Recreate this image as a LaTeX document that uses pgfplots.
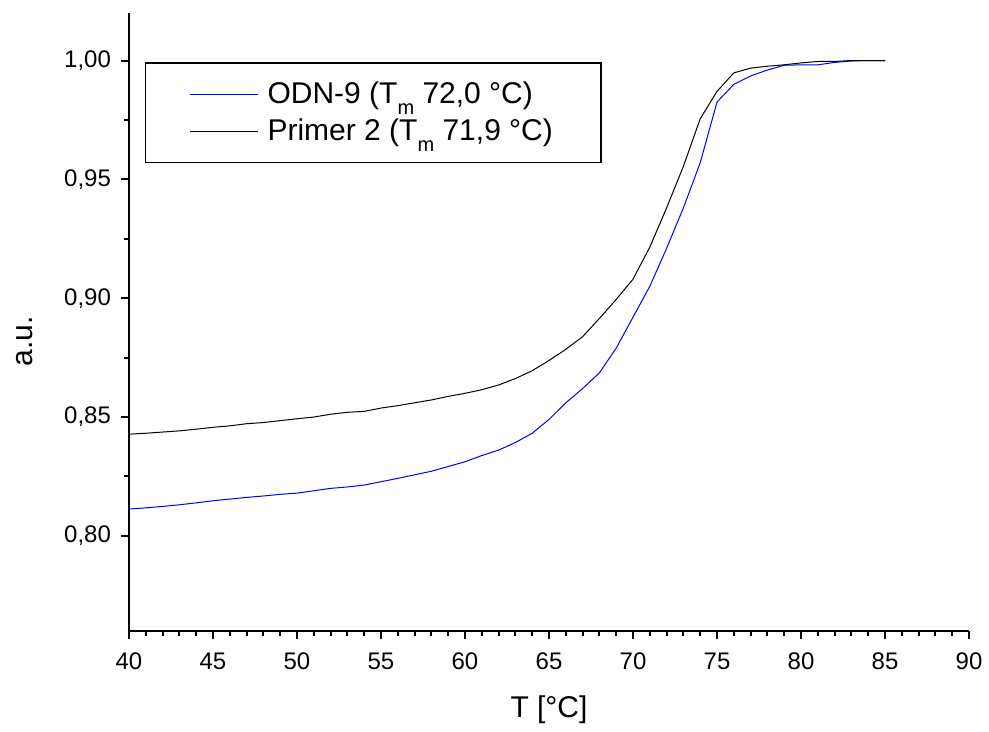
\documentclass[border=0pt]{standalone}
\usepackage{fontspec}
\setmainfont{Liberation Sans}
\usepackage{pgfplots}
\pgfplotsset{compat=1.18}
\usepackage{pgfplotstable}

% ODN-9, normalised absorbance
\pgfplotstableread{
T    A
40   0.8113
41   0.8118
42   0.8124
43   0.8131
44   0.8139
45   0.8148
46   0.8155
47   0.8162
48   0.8168
49   0.8175
50   0.8180
51   0.8190
52   0.8200
53   0.8206
54   0.8214
55   0.8228
56   0.8242
57   0.8257
58   0.8272
59   0.8292
60   0.8312
61   0.8338
62   0.8361
63   0.8393
64   0.8432
65   0.8490
66   0.8560
67   0.8620
68   0.8686
69   0.8790
70   0.8920
71   0.9050
72   0.9210
73   0.9380
74   0.9570
75   0.9825
76   0.9900
77   0.9935
78   0.9960
79   0.9980
80   0.9982
81   0.9982
82   0.9992
83   0.9998
84   1.0000
85   1.0000
}\odn

% Primer 2
\pgfplotstableread{
T    A
40   0.8428
41   0.8432
42   0.8437
43   0.8442
44   0.8449
45   0.8457
46   0.8463
47   0.8472
48   0.8477
49   0.8485
50   0.8493
51   0.8500
52   0.8512
53   0.8520
54   0.8524
55   0.8538
56   0.8548
57   0.8560
58   0.8572
59   0.8587
60   0.8600
61   0.8615
62   0.8635
63   0.8662
64   0.8695
65   0.8738
66   0.8785
67   0.8838
68   0.8915
69   0.8995
70   0.9080
71   0.9215
72   0.9380
73   0.9555
74   0.9755
75   0.9870
76   0.9948
77   0.9968
78   0.9976
79   0.9982
80   0.9990
81   0.9996
82   0.9996
83   1.0000
84   1.0000
85   0.9999
}\primer

\newcommand{\Tm}{T\raisebox{-0.35em}{\fontsize{10}{10}\selectfont m}}

\begin{document}
\begin{tikzpicture}
% page = reference frame (axis box at 0,0 .. 420pt,309pt)
\useasboundingbox (-64.5pt,-50.5pt) rectangle (430pt,315.5pt);
\begin{axis}[
    at={(0pt,0pt)}, anchor=south west,
    scale only axis,
    width=420pt,
    height=309pt,
    xmin=40, xmax=90,
    ymin=0.76, ymax=1.02,
    axis x line*=bottom,
    axis y line*=left,
    axis line style={line width=1pt},
    xtick={40,45,...,90},
    ytick={0.80,0.85,0.90,0.95,1.00},
    minor x tick num=4,
    minor y tick num=1,
    tick align=outside,
    major tick length=4pt,
    minor tick length=2.5pt,
    tick style={line width=1pt, black},
    ticklabel style={font=\fontsize{12}{14}\selectfont},
    xticklabel style={yshift=-3.5pt},
    yticklabel style={xshift=-1.5pt},
    /pgf/number format/assume math mode=true,
    yticklabel style={/pgf/number format/.cd, fixed, fixed zerofill, precision=2, use comma},
    xlabel={T [°C]},
    ylabel={a.u.},
    label style={font=\fontsize{15}{17}\selectfont},
    xlabel style={at={(axis description cs:0.5,0)}, anchor=center, yshift=-39.5pt},
    ylabel style={at={(axis description cs:0,0.469)}, anchor=center, yshift=52pt},
    legend style={
        at={(axis description cs:0.019,0.92)}, anchor=north west,
        font=\fontsize{15}{17}\selectfont,
        draw=black, line width=0.6pt,
        inner xsep=22pt, inner ysep=7.5pt,
        row sep=2pt,
        cells={anchor=west},
    },
    legend image code/.code={\draw[#1, line width=0.5pt] (0pt,0pt) -- (34pt,0pt);
        \path (36.5pt,0pt);},
]
\addplot[blue, line width=0.5pt] table[x=T, y=A] {\odn};
\addplot[black, line width=0.5pt] table[x=T, y=A] {\primer};
\legend{{ODN-9 (\Tm\ 72,0 °C)}, {Primer 2 (\Tm\ 71,9 °C)}}
\end{axis}
\end{tikzpicture}
\end{document}
